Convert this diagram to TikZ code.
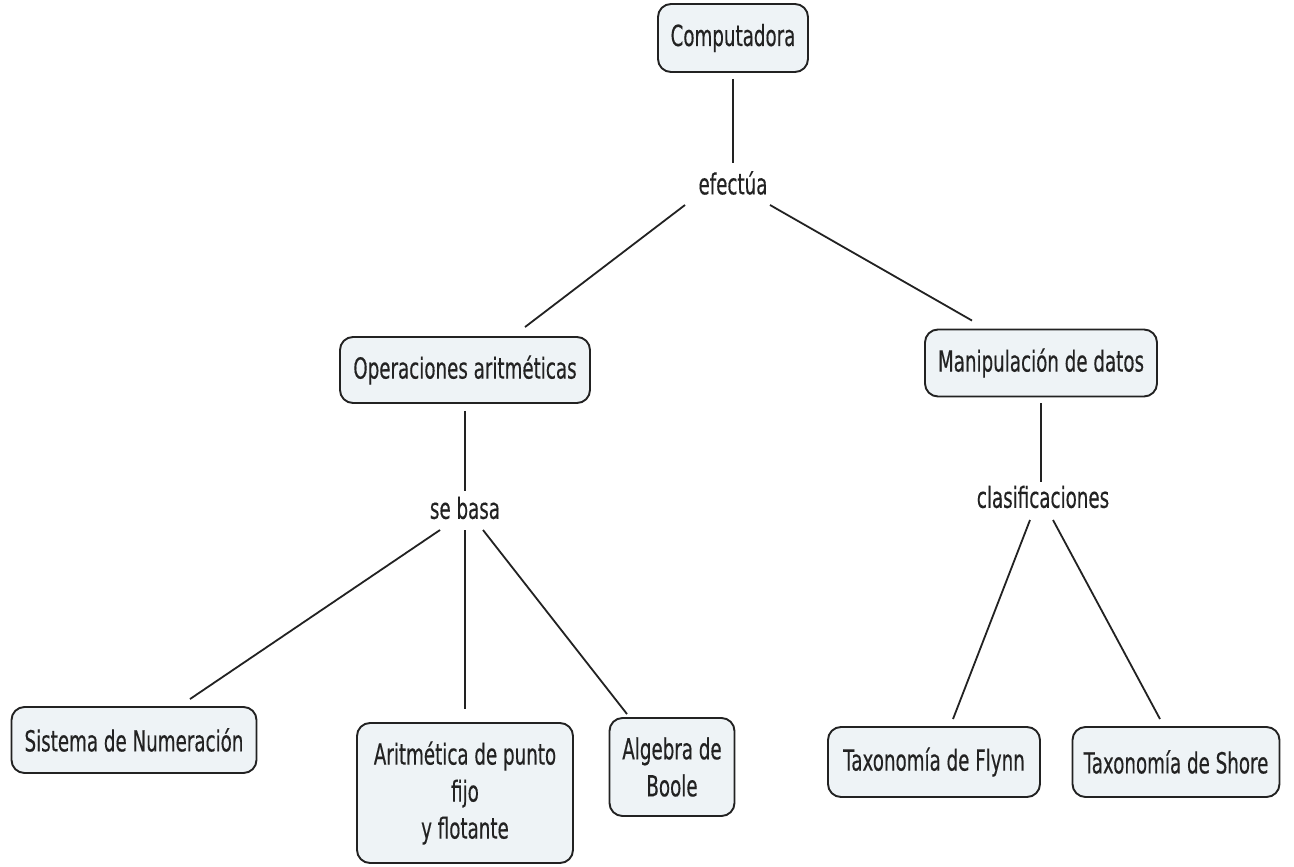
\documentclass[tikz,border=0pt]{standalone}
\usepackage{fontspec}
\setmainfont[FakeStretch=0.63,FakeBold=0.35]{DejaVu Sans}
\usetikzlibrary{calc}
\definecolor{boxfill}{HTML}{EEF3F6}
\definecolor{ink}{HTML}{222222}
\begin{document}
\begin{tikzpicture}[x=1pt,y=-1pt,
  concept/.style={draw=ink, line width=1.9pt, fill=boxfill, rounded corners=13pt,
    align=center, inner sep=0pt, font=\fontsize{29}{37}\selectfont, text=ink},
  linkword/.style={inner sep=2pt, font=\fontsize{29}{32}\selectfont, text=ink},
  link/.style={draw=ink, line width=1.8pt}]
\fill[white] (0,0) rectangle (1294,867);
\useasboundingbox (0,0) rectangle (1294,867);

% concepts
\node[concept, minimum width=150pt, minimum height=68pt] (comp) at (733,38) {Computadora};
\node[concept, minimum width=250pt, minimum height=66pt] (oper) at (465,370) {Operaciones aritméticas};
\node[concept, minimum width=232pt, minimum height=67pt] (manip) at (1041,363) {Manipulación de datos};
\node[concept, minimum width=245pt, minimum height=66pt] (sist) at (134,740) {Sistema de Numeración};
\node[concept, minimum width=216pt, minimum height=140pt] (arit) at (465,793) {Aritmética de punto\\fijo\\y flotante};
\node[concept, minimum width=125pt, minimum height=98pt] (alg) at (672,767) {Algebra de\\Boole};
\node[concept, minimum width=212pt, minimum height=70pt] (flynn) at (934,762) {Taxonomía de Flynn};
\node[concept, minimum width=207pt, minimum height=70pt] (shore) at (1176,762) {Taxonomía de Shore};

% linking words
\node[linkword] (efec) at (733,183) {efectúa};
\node[linkword] (basa) at (465,508) {se basa};
\node[linkword] (clas) at (1043,497) {clasificaciones};

% connectors
\draw[link] ($(comp.south)+(0,6)$) -- ($(efec.north)+(0,-6)$);
\draw[link] ($(efec)+(-48,22)$) -- ($(oper.north)+(60,-9)$);
\draw[link] ($(efec)+(37,22)$) -- ($(manip.north)+(-69,-8)$);

\draw[link] ($(oper.south)+(0,7)$) -- ($(basa.north)+(0,-4)$);
\draw[link] ($(basa)+(-25,22)$) -- ($(sist.north)+(56,-7)$);
\draw[link] ($(basa)+(0,22)$) -- ($(arit.north)+(0,-13)$);
\draw[link] ($(basa)+(18,22)$) -- ($(alg.north)+(-45,-3)$);

\draw[link] ($(manip.south)+(0,6)$) -- ($(clas.north)+(-2,-2)$);
\draw[link] ($(clas)+(-13,23)$) -- ($(flynn.north)+(19,-7)$);
\draw[link] ($(clas)+(10,23)$) -- ($(shore.north)+(-16,-7)$);
\end{tikzpicture}
\end{document}
